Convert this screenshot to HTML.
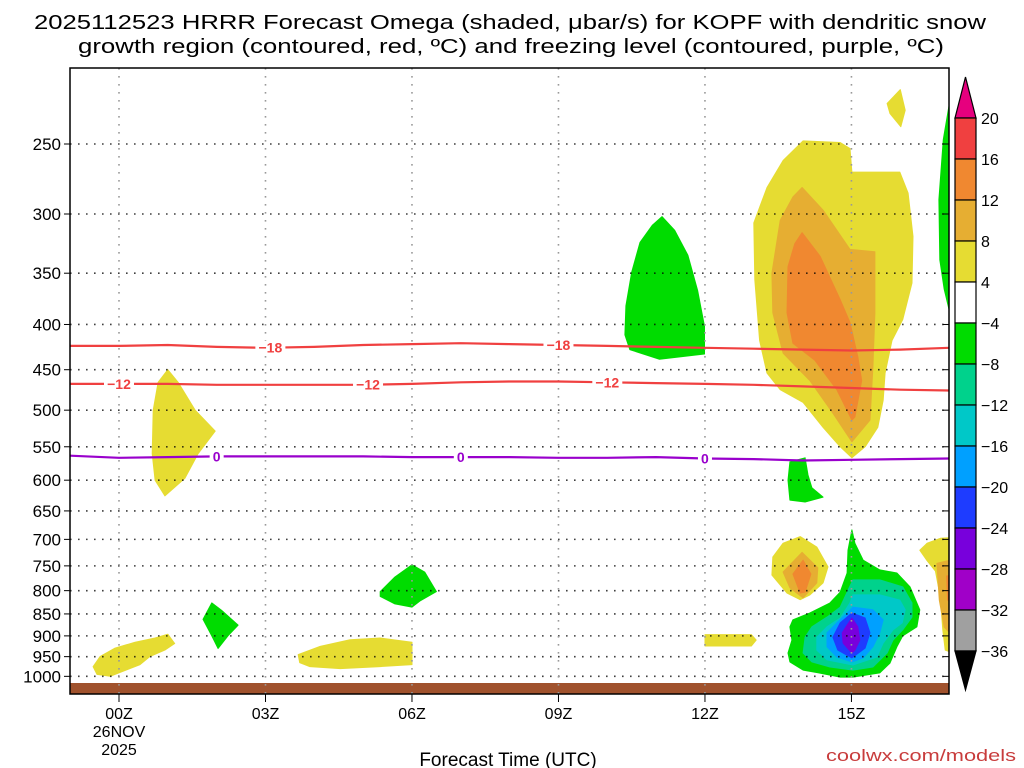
<!DOCTYPE html>
<html><head><meta charset="utf-8"><style>
html,body{margin:0;padding:0;background:#fff;}
svg{display:block;font-family:"Liberation Sans",sans-serif;}
</style></head><body>
<svg id="chart" width="1024" height="768" viewBox="0 0 1024 768" xmlns="http://www.w3.org/2000/svg">
<defs><clipPath id="plotclip"><rect x="70" y="68" width="879" height="615"/></clipPath></defs>
<rect x="0" y="0" width="1024" height="768" fill="#fff"/>
<text x="510" y="29" font-size="20" text-anchor="middle" textLength="952" lengthAdjust="spacingAndGlyphs">2025112523 HRRR Forecast Omega (shaded, μbar/s) for KOPF with dendritic snow</text>
<text x="511" y="53" font-size="20" text-anchor="middle" textLength="866" lengthAdjust="spacingAndGlyphs">growth region (contoured, red, ºC) and freezing level (contoured, purple, ºC)</text>
<g id="plot"></g>
<text x="508" y="766" font-size="19" text-anchor="middle">Forecast Time (UTC)</text>
<text x="1016" y="761" font-size="17" fill="#c83c3c" text-anchor="end" textLength="190" lengthAdjust="spacingAndGlyphs">coolwx.com/models</text>
<g id="cbar"></g>
</svg>
<script>
const pressureTicks=[250,300,350,400,450,500,550,600,650,700,750,800,850,900,950,1000];
const hourTicks=[0,3,6,9,12,15];
const hourTickLabels=['00Z','03Z','06Z','09Z','12Z','15Z'];
const isoHours=[-1,0,1,2,3,4,5,6,7,8,9,10,11,12,13,14,15,16,17];
const iso18=[423,423,422,424,425,424,422,421,420,421,422,423,424,425,426,427,428,427,425];
const iso12=[467,467,467,468,468,468,468,467,465,464,464,465,466,467,468,470,472,474,475];
const iso0=[563,566,565,564,564,564,564,565,565,565,566,566,565,567,568,570,569,568,567];
const iso18Labels=[3.1,9.0];
const iso12Labels=[0.0,5.1,10.0];
const iso0Labels=[2.0,7.0,12.0];
const cbarLevels=['20','16','12','8','4','−4','−8','−12','−16','−20','−24','−28','−32','−36'];

const yellowSW=[[-0.53,975],[-0.39,950],[-0.08,929],[0.33,915],[0.74,905],[1.0,896],[1.14,918],[0.94,934],[0.63,950],[0.43,970],[0.12,985],[-0.18,1000],[-0.45,995]];
const yellow01Z=[[1.0,450],[1.21,465],[1.56,500],[1.97,528],[1.62,560],[1.35,597],[0.94,625],[0.74,600],[0.68,560],[0.70,500],[0.8,465]];
const green02Z=[[1.9,826],[2.1,842],[2.44,875],[2.23,900],[2.03,930],[1.9,900],[1.72,862]];
const yellow05Z=[[3.67,945],[4.12,925],[4.73,909],[5.35,905],[6.0,915],[6.0,970],[5.35,975],[4.53,980],[3.91,975],[3.7,965]];
const green06Z=[[5.35,802],[5.65,772],[6.0,748],[6.26,762],[6.5,802],[6.16,822],[6.0,835],[5.65,828],[5.35,812]];
const green11Z=[[10.92,309],[10.67,323],[10.5,349],[10.38,381],[10.36,411],[10.46,427],[11.07,438],[11.99,432],[11.99,402],[11.85,366],[11.65,334],[11.38,313],[11.12,302]];
const yellow12Z=[[12.0,897],[12.95,897],[13.05,910],[12.95,924],[12.0,924]];
const yellowBig=[[14.01,248],[14.77,249],[14.97,253],[15.01,269],[15.99,269],[16.16,284],[16.26,318],[16.24,359],[16.05,395],[15.83,417],[15.69,454],[15.65,487],[15.54,523],[15.28,550],[15.01,566],[14.77,550],[14.42,523],[14.01,490],[13.54,474],[13.27,454],[13.12,417],[13.02,356],[13.0,307],[13.27,280],[13.6,261]];
const orange8Big=[[13.99,280],[14.42,297],[14.97,329],[15.48,331],[15.48,388],[15.44,447],[15.38,513],[15.01,543],[14.62,504],[14.15,463],[13.6,431],[13.39,388],[13.37,350],[13.54,305],[13.8,287]];
const orange12Big=[[13.99,315],[14.36,335],[14.77,375],[14.97,398],[15.13,435],[15.21,463],[15.07,509],[15.01,513],[14.7,474],[14.25,439],[13.8,420],[13.68,388],[13.7,344],[13.84,324]];
const yellow16Z=[[15.73,225],[16.0,217],[16.1,229],[16.01,239],[15.79,231]];
const greenEdge=[[17,226],[16.88,247],[16.79,289],[16.81,338],[16.9,365],[17,385]];
const green14Z=[[13.74,572],[14.05,566],[14.11,592],[14.19,612],[14.42,627],[14.05,635],[13.74,632],[13.7,600]];
const yellow14Z=[[13.39,733],[13.6,707],[13.95,695],[14.29,714],[14.52,752],[14.42,784],[14.15,809],[13.95,819],[13.68,805],[13.37,768]];
const orange8_14Z=[[13.6,762],[13.99,724],[14.31,754],[14.29,784],[14.01,815],[13.74,794]];
const orange12_14Z=[[13.8,766],[14.01,739],[14.17,766],[14.05,803],[13.95,805]];
const green15Z=[[15.01,683],[15.07,707],[15.24,739],[15.58,758],[15.93,764],[16.20,792],[16.40,841],[16.34,879],[16.05,900],[15.93,926],[15.79,966],[15.58,991],[15.03,1002],[14.77,1002],[14.33,991],[14.01,984],[13.74,963],[13.70,941],[13.78,910],[13.74,879],[13.80,863],[14.15,848],[14.56,826],[14.77,803],[14.91,764],[14.93,720]];
const teal15Z=[[15.03,778],[15.58,778],[16.05,792],[16.24,826],[16.24,857],[16.05,886],[15.85,910],[15.73,941],[15.44,976],[15.03,984],[14.56,976],[14.19,963],[14.01,941],[14.05,903],[14.19,879],[14.50,857],[14.77,835],[14.93,799]];
const cyan15Z=[[15.03,809],[15.58,809],[15.99,820],[16.10,841],[16.04,870],[15.85,886],[15.65,917],[15.52,951],[15.03,971],[14.50,958],[14.29,934],[14.29,903],[14.50,879],[14.77,859],[14.97,826]];
const ltblue15Z=[[15.03,835],[15.44,841],[15.65,863],[15.58,893],[15.44,926],[15.24,953],[15.01,963],[14.70,951],[14.50,926],[14.50,893],[14.70,870],[14.91,848]];
const blue15Z=[[15.01,848],[15.28,859],[15.38,893],[15.28,929],[15.01,953],[14.72,934],[14.62,903],[14.77,870]];
const purple15Z=[[15.01,859],[15.13,879],[15.17,910],[15.07,934],[15.01,941],[14.83,917],[14.81,893],[14.91,875]];
const yellowEdge=[[16.40,720],[16.55,707],[16.82,698],[17.2,696],[17.2,946],[16.92,934],[16.87,886],[16.82,813],[16.72,760],[16.55,740]];
const orange8Edge=[[16.75,745],[17.2,735],[17.2,915],[16.9,880],[16.8,820]];
const orange12Edge=[[16.95,770],[17.2,765],[17.2,840],[16.97,820]];

const NS='http://www.w3.org/2000/svg';
function xs(h){return 119+48.83*h;}
function ys(p){return 144+384*Math.log(p/250);}
function mk(tag,attrs,parent){const e=document.createElementNS(NS,tag);for(const k in attrs)e.setAttribute(k,attrs[k]);parent.appendChild(e);return e;}
const plot=document.getElementById('plot');

// shaded regions
const shadeG=mk('g',{'clip-path':'url(#plotclip)'},plot);


const blobs=[
 [yellowSW,'#e6dc32','shade-yellow-00z'],[yellow01Z,'#e6dc32','shade-yellow-01z'],[green02Z,'#00dc00','shade-green-02z'],
 [yellow05Z,'#e6dc32','shade-yellow-05z'],[green06Z,'#00dc00','shade-green-06z'],[green11Z,'#00dc00','shade-green-11z'],
 [yellow12Z,'#e6dc32','shade-yellow-12z'],[yellowBig,'#e6dc32','shade-yellow-upper'],[orange8Big,'#e6ae32','shade-gold-upper'],
 [orange12Big,'#f08830','shade-orange-upper'],[yellow16Z,'#e6dc32','shade-yellow-16z'],[greenEdge,'#00dc00','shade-green-edge'],
 [green14Z,'#00dc00','shade-green-14z'],[yellow14Z,'#e6dc32','shade-yellow-14z'],[orange8_14Z,'#e6ae32','shade-gold-14z'],
 [orange12_14Z,'#f08830','shade-orange-14z'],[green15Z,'#00dc00','shade-green-15z'],[teal15Z,'#00d28c','shade-teal-15z'],
 [cyan15Z,'#00c8c8','shade-cyan-15z'],[ltblue15Z,'#00a0ff','shade-lightblue-15z'],[blue15Z,'#1e3cff','shade-blue-15z'],
 [purple15Z,'#7800dc','shade-purple-15z'],[yellowEdge,'#e6dc32','shade-yellow-edge'],[orange8Edge,'#e6ae32','shade-gold-edge'],
 [orange12Edge,'#f08830','shade-orange-edge']
];
blobs.forEach(b=>{
 const pts=b[0].map(q=>xs(q[0]).toFixed(1)+','+ys(q[1]).toFixed(1)).join(' ');
 const el=mk('polygon',{points:pts,fill:b[1],'stroke':b[1],'stroke-width':1,'stroke-linejoin':'round'},shadeG);
 
 
});

// ground
const ground=mk('rect',{x:70,y:683,width:879,height:11,fill:'#a0522d'},plot);



// grid
const gridG=mk('g',{},plot);


pressureTicks.forEach(p=>{
 const gl=mk('line',{x1:70,x2:949,y1:ys(p),y2:ys(p),stroke:'#000','stroke-width':1.6,'stroke-dasharray':'1.6 6.4',opacity:0.75},gridG);
 
 
 const tk=mk('line',{x1:64,x2:70,y1:ys(p),y2:ys(p),stroke:'#000','stroke-width':1},gridG);
 
 
 const tr=mk('line',{x1:943,x2:949,y1:ys(p),y2:ys(p),stroke:'#000','stroke-width':1},gridG);
 
 
 const t=mk('text',{x:61,y:ys(p)+6,'font-size':17,'text-anchor':'end',fill:'#000'},gridG);
 t.textContent=p;
 
 
});
hourTicks.forEach((h,i)=>{
 const gl=mk('line',{x1:xs(h),x2:xs(h),y1:68,y2:694,stroke:'#999','stroke-width':1.6,'stroke-dasharray':'1.6 6.4'},gridG);
 
 
 const tk=mk('line',{x1:xs(h),x2:xs(h),y1:694,y2:702,stroke:'#000','stroke-width':1},gridG);
 
 
 const t=mk('text',{x:xs(h),y:719,'font-size':16,'text-anchor':'middle'},gridG);
 t.textContent=hourTickLabels[i];
 
 
});
const d1=mk('text',{x:xs(0),y:737,'font-size':16,'text-anchor':'middle'},gridG);
d1.textContent='26NOV';


const d2=mk('text',{x:xs(0),y:755,'font-size':16,'text-anchor':'middle'},gridG);
d2.textContent='2025';



// isotherms
function drawIso(vals,labels,color,txt,name){
 const g=mk('g',{'clip-path':'url(#plotclip)'},plot);
 
 
 const d=isoHours.map((h,i)=>(i?'L':'M')+xs(h).toFixed(1)+','+ys(vals[i]).toFixed(1)).join(' ');
 const pl=mk('path',{d:d,fill:'none',stroke:color,'stroke-width':2.2},g);
 
 
 labels.forEach(h=>{
  const i=Math.floor(h+1), f=h+1-i;
  const p=vals[i]+(vals[Math.min(i+1,vals.length-1)]-vals[i])*f;
  const w=txt.length*8+6;
  const bg=mk('rect',{x:xs(h)-w/2,y:ys(p)-7,width:w,height:14,fill:'#fff'},g);
  
  
  const t=mk('text',{x:xs(h),y:ys(p)+5,'font-size':14,'font-weight':'bold','text-anchor':'middle',fill:color},g);
  t.textContent=txt;
  
  
 });
}
drawIso(iso18,iso18Labels,'#f04040','−18','isotherm-minus-18');
drawIso(iso12,iso12Labels,'#f04040','−12','isotherm-minus-12');
drawIso(iso0,iso0Labels,'#9900cc','0','freezing-level-0');

// frame
const frame=mk('rect',{x:70,y:68,width:879,height:626,fill:'none',stroke:'#000','stroke-width':1.5},plot);



// colorbar
const cb=document.getElementById('cbar');
const cbColors=['#f04040','#f08830','#e6ae32','#e6dc32','#ffffff','#00dc00','#00d28c','#00c8c8','#00a0ff','#1e3cff','#7800dc','#a000c8','#a0a0a0'];
const cx0=955,cx1=976,cy0=118,step=41;
const topTri=mk('polygon',{points:`${cx0},${cy0} ${cx1},${cy0} ${(cx0+cx1)/2},77`,fill:'#e6007e',stroke:'#000','stroke-width':1.2},cb);


cbColors.forEach((c,i)=>{
 const r=mk('rect',{x:cx0,y:cy0+i*step,width:cx1-cx0,height:step,fill:c,stroke:'#000','stroke-width':1.2},cb);
 
 
});
const botY=cy0+cbColors.length*step;
const botTri=mk('polygon',{points:`${cx0},${botY} ${cx1},${botY} ${(cx0+cx1)/2},690`,fill:'#000',stroke:'#000','stroke-width':1.2},cb);


cbarLevels.forEach((l,i)=>{
 const t=mk('text',{x:981,y:cy0+i*step+6,'font-size':16},cb);
 t.textContent=l;
 
 
});
</script>
</body></html>
